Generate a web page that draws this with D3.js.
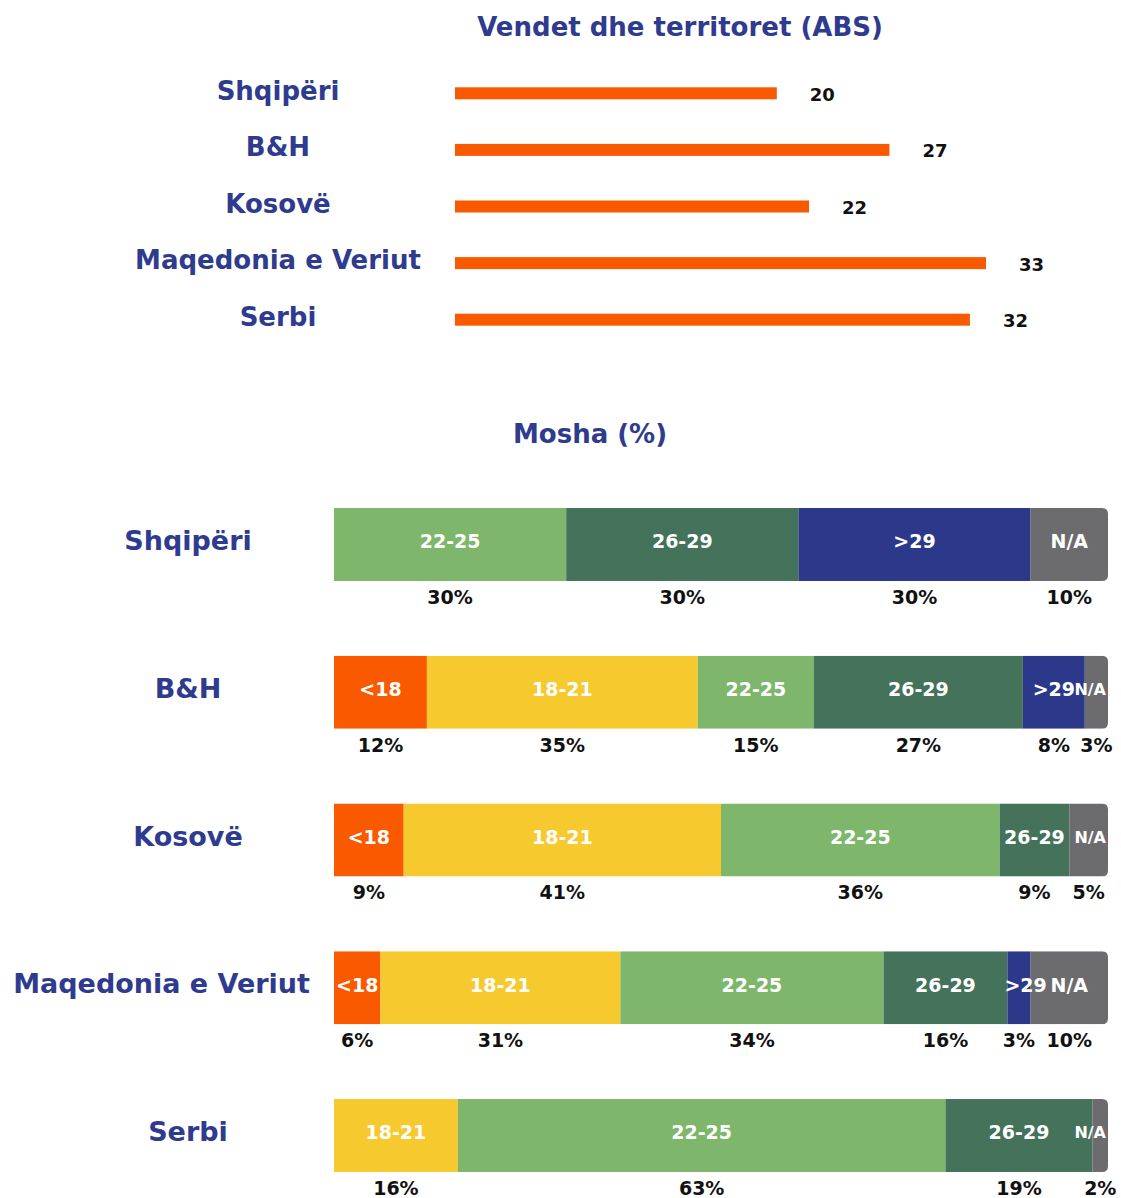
<!DOCTYPE html>
<html><head><meta charset="utf-8">
<script src="https://cdn.jsdelivr.net/npm/d3@7"></script>
<style>
html,body{margin:0;padding:0;background:#fff;}
svg{display:block;}
text{font-family:"DejaVu Sans",Verdana,sans-serif;}
</style></head>
<body>
<svg id="chart" width="1121" height="1198"></svg>
<script>
// ---------- DATA ----------
const titleTop = "Vendet dhe territoret (ABS)";
const titleBottom = "Mosha (%)";
const countries = ["Shqipëri", "B&H", "Kosovë", "Maqedonia e Veriut", "Serbi"];
const counts = [20, 27, 22, 33, 32];
const ageGroups = ["<18", "18-21", "22-25", "26-29", ">29", "N/A"];
const pctShqiperi = [0, 0, 30, 30, 30, 10];
const pctBH = [12, 35, 15, 27, 8, 3];
const pctKosove = [9, 41, 36, 9, 0, 5];
const pctMaqedonia = [6, 31, 34, 16, 3, 10];
const pctSerbi = [0, 16, 63, 19, 0, 2];
const agePct = [pctShqiperi, pctBH, pctKosove, pctMaqedonia, pctSerbi];

// ---------- STYLE ----------
const blue = "#2E3B8E";
const orange = "#F95A00";
const ageColors = ["#F95A00", "#F6C92E", "#7EB66B", "#44725A", "#2C388A", "#6C6C6E"];

const svg = d3.select("#chart");

// ---------- TOP CHART ----------
svg.append("text").attr("x", 680).attr("y", 36)
  .attr("text-anchor", "middle").attr("font-size", 26).attr("font-weight", 700)
  .attr("fill", blue).text(titleTop);

const xTop = d3.scaleLinear().domain([0, 33]).range([455, 986]);
const yTop = d3.scaleBand().domain(countries).range([65, 348]);

const gTop = svg.append("g");
gTop.selectAll("rect.bar").data(countries).join("rect")
  .attr("class", "bar")
  .attr("x", xTop(0))
  .attr("y", d => yTop(d) + yTop.bandwidth() / 2 - 6)
  .attr("width", (d, i) => xTop(counts[i]) - xTop(0))
  .attr("height", 12)
  .attr("fill", orange);

gTop.selectAll("text.cat").data(countries).join("text")
  .attr("class", "cat")
  .attr("x", 278)
  .attr("y", d => yTop(d) + yTop.bandwidth() / 2 - 3)
  .attr("dy", "0.36em")
  .attr("text-anchor", "middle").attr("font-size", 26).attr("font-weight", 700)
  .attr("fill", blue).text(d => d);

gTop.selectAll("text.val").data(countries).join("text")
  .attr("class", "val")
  .attr("x", (d, i) => xTop(counts[i]) + 33)
  .attr("y", d => yTop(d) + yTop.bandwidth() / 2 + 1)
  .attr("dy", "0.36em")
  .attr("font-size", 18).attr("font-weight", 700)
  .attr("fill", "#111").text((d, i) => counts[i]);

// ---------- BOTTOM CHART ----------
svg.append("text").attr("x", 590).attr("y", 443)
  .attr("text-anchor", "middle").attr("font-size", 26).attr("font-weight", 700)
  .attr("fill", blue).text(titleBottom);

const xB = d3.scaleLinear().domain([0, 100]).range([334, 1108]);
const yB = d3.scaleBand().domain(countries).range([508, 1172]).paddingInner(0.506).paddingOuter(0);
const color = d3.scaleOrdinal().domain(ageGroups).range(ageColors);

const defs = svg.append("defs");
const r = 6;

countries.forEach((c, ci) => {
  const y0 = yB(c), h = yB.bandwidth(), y1 = y0 + h;
  const x0 = xB(0), x1 = xB(100);
  const clipId = "clip" + ci;
  defs.append("clipPath").attr("id", clipId).append("path")
    .attr("d", `M${x0},${y0}H${x1 - r}Q${x1},${y0} ${x1},${y0 + r}V${y1 - r}Q${x1},${y1} ${x1 - r},${y1}H${x0}Z`);

  // build stacked segments
  let acc = 0;
  const segs = [];
  agePct[ci].forEach((v, ai) => {
    if (v > 0) segs.push({ group: ageGroups[ai], v, start: acc, end: acc + v });
    acc += v;
  });

  const g = svg.append("g");
  g.append("g").attr("clip-path", `url(#${clipId})`)
    .selectAll("rect").data(segs).join("rect")
    .attr("x", d => xB(d.start))
    .attr("y", y0)
    .attr("width", d => xB(d.end) - xB(d.start))
    .attr("height", h)
    .attr("fill", d => color(d.group));

  const labels = g.append("g").selectAll("text").data(segs).join("text")
    .attr("y", y0 + h / 2 - 3)
    .attr("dy", "0.36em")
    .attr("font-size", 19).attr("font-weight", 700)
    .attr("fill", "#fff").text(d => d.group);
  labels.each(function (d, i) {
    const t = d3.select(this);
    const sw = xB(d.end) - xB(d.start);
    let w = this.getComputedTextLength();
    if (w + 4 > sw) {
      if (i === segs.length - 1) {
        t.attr("font-size", 16).attr("text-anchor", "end").attr("x", x1 - 2);
      } else {
        t.attr("text-anchor", "start").attr("x", xB(d.start) - 3);
      }
    } else {
      t.attr("text-anchor", "middle").attr("x", (xB(d.start) + xB(d.end)) / 2);
    }
  });

  g.selectAll("text.pct").data(segs).join("text")
    .attr("class", "pct")
    .attr("x", d => (xB(d.start) + xB(d.end)) / 2)
    .attr("y", y1 + 23)
    .attr("text-anchor", "middle").attr("font-size", 19).attr("font-weight", 700)
    .attr("fill", "#111").text(d => d.v + "%");

  // category label left
  const lab = svg.append("text")
    .attr("y", y0 + h / 2 - 4).attr("dy", "0.36em")
    .attr("text-anchor", "middle").attr("font-size", 27).attr("font-weight", 700)
    .attr("fill", blue).text(c);
  const lw = lab.node().getComputedTextLength();
  let cx = 188;
  if (cx + lw / 2 > 310) cx = 310 - lw / 2;
  if (cx - lw / 2 < 8) cx = 8 + lw / 2;
  lab.attr("x", cx);
});
</script>
</body></html>
